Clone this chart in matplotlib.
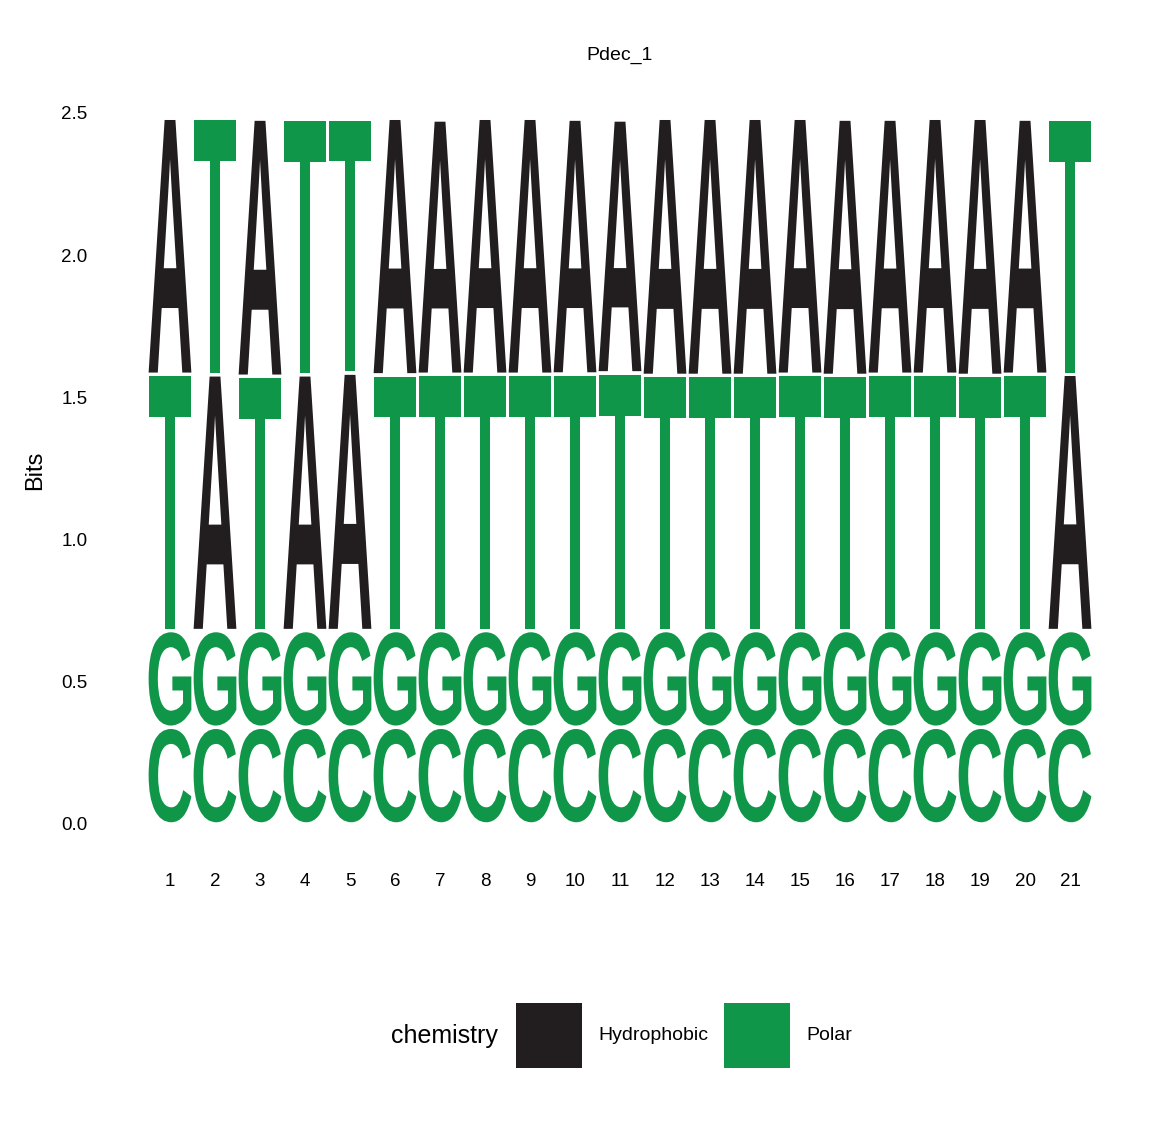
import matplotlib
matplotlib.use("Agg")
import matplotlib.pyplot as plt
from matplotlib.textpath import TextPath
from matplotlib.font_manager import FontProperties
from matplotlib.patches import PathPatch, Rectangle
from matplotlib.transforms import Affine2D

# positions in the alignment
positions = list(range(1, 22))

# bottom of every stack: C then G
c_bits = [0.34] * 21
g_bits = [0.34] * 21

# third and fourth letter of each stack
mid_letter = ['T', 'A', 'T', 'A', 'A', 'T', 'T', 'T', 'T', 'T', 'T',
              'T', 'T', 'T', 'T', 'T', 'T', 'T', 'T', 'T', 'A']
mid_bits = [0.901, 0.899, 0.894, 0.899, 0.905, 0.899, 0.901, 0.901, 0.901, 0.902, 0.906,
            0.897, 0.897, 0.897, 0.901, 0.897, 0.901, 0.901, 0.897, 0.901, 0.901]
top_letter = ['A', 'T', 'A', 'T', 'T', 'A', 'A', 'A', 'A', 'A', 'A',
              'A', 'A', 'A', 'A', 'A', 'A', 'A', 'A', 'A', 'T']
top_bits = [0.900, 0.902, 0.904, 0.899, 0.893, 0.902, 0.894, 0.900, 0.900, 0.896, 0.889,
            0.904, 0.904, 0.904, 0.900, 0.901, 0.897, 0.900, 0.904, 0.897, 0.897]

chem_names = ['Hydrophobic', 'Polar']
chem_colors = {'Hydrophobic': '#221E1F', 'Polar': '#109648'}
letter_chem = {'A': 'Hydrophobic', 'C': 'Polar', 'G': 'Polar', 'T': 'Polar'}

fp = FontProperties(family='Liberation Sans', weight='bold')


def draw_letter(ax, ch, x, y0, y1, w=0.95, gap=0.006):
    # stretch the glyph so it fills its box
    tp = TextPath((0, 0), ch, size=1, prop=fp)
    bb = tp.get_extents()
    h = (y1 - y0) - 2 * gap
    tr = (Affine2D().translate(-bb.x0, -bb.y0)
          .scale(w / bb.width, h / bb.height)
          .translate(x - w / 2, y0 + gap))
    p = tr.transform_path(tp)
    ax.add_patch(PathPatch(p, fc=chem_colors[letter_chem[ch]], ec='none', lw=0))


fig = plt.figure(figsize=(11.65, 11.21), dpi=100)
ax = fig.add_axes([0.0872, 0.2335, 0.8900, 0.6922])

for i, x in enumerate(positions):
    y = 0.0
    stack = [('C', c_bits[i]), ('G', g_bits[i]),
             (mid_letter[i], mid_bits[i]), (top_letter[i], top_bits[i])]
    for ch, hgt in stack:
        draw_letter(ax, ch, x, y, y + hgt)
        y += hgt

ax.set_xlim(-0.52, 22.52)
ax.set_ylim(-0.124, 2.604)
ax.set_xticks(positions)
ax.set_xticklabels([str(p) for p in positions])
ax.set_yticks([0.0, 0.5, 1.0, 1.5, 2.0, 2.5])
ax.set_yticklabels(['0.0', '0.5', '1.0', '1.5', '2.0', '2.5'])
for s in ax.spines.values():
    s.set_visible(False)
ax.tick_params(axis='both', length=0, labelsize=13.5, labelcolor='black')
ax.tick_params(axis='y', pad=10)
ax.tick_params(axis='x', pad=10)
for lab in ax.get_xticklabels() + ax.get_yticklabels():
    lab.set_family('Liberation Sans')

fig.text(620 / 1165, 1 - 55 / 1121, 'Pdec_1', ha='center', va='center',
         fontsize=14, family='Liberation Sans')
fig.text(35 / 1165, 1 - 470 / 1121, 'Bits', ha='center', va='center',
         rotation=90, fontsize=17, family='Liberation Sans')

# legend at the bottom
fig.text(391 / 1165, 1 - 1036 / 1121, 'chemistry', ha='left', va='center',
         fontsize=18, family='Liberation Sans')
key_left = [516, 724]
lab_left = [598, 806]
for name, kx, lx in zip(chem_names, key_left, lab_left):
    fig.patches.append(Rectangle((kx / 1165, 1 - 1068 / 1121), 66 / 1165, 65 / 1121,
                                 transform=fig.transFigure, fc=chem_colors[name], ec='none'))
    fig.text(lx / 1165, 1 - 1036 / 1121, name, ha='left', va='center',
             fontsize=14, family='Liberation Sans')

fig.savefig('out.png', dpi=100)
